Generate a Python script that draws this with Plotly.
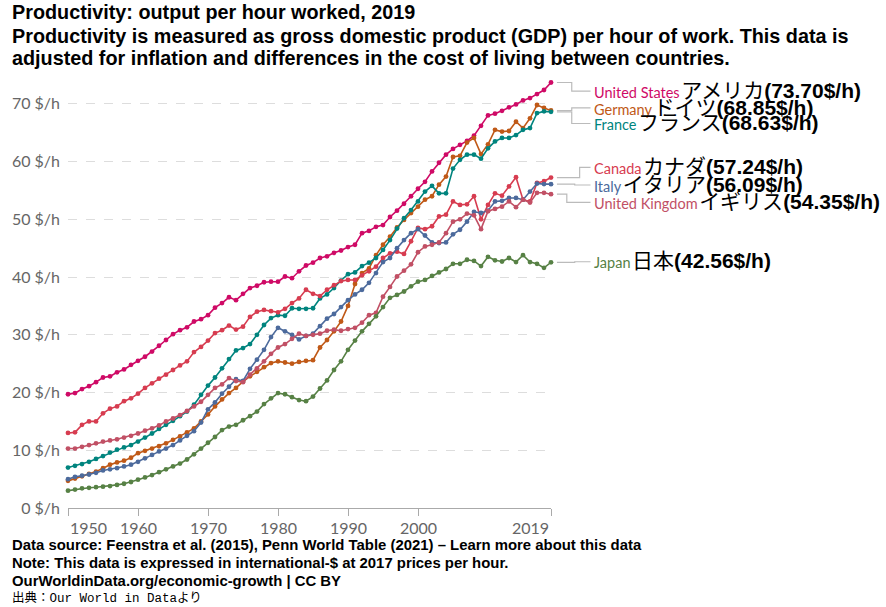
import plotly.graph_objects as go

years = list(range(1950, 2020))

countries = ["United States", "Germany", "France", "Canada", "Italy", "United Kingdom", "Japan"]
japanese = ["アメリカ", "ドイツ", "フランス", "カナダ", "イタリア", "イギリス", "日本"]

us = [19.7, 19.9, 20.6, 21.1, 21.8, 22.6, 22.8, 23.5, 24.0, 24.8,
      25.5, 26.2, 27.1, 28.1, 29.1, 30.1, 30.8, 31.3, 32.3, 32.7,
      33.4, 34.7, 35.5, 36.5, 36.0, 37.1, 38.1, 38.5, 39.1, 39.2,
      39.2, 40.1, 39.8, 41.0, 42.0, 42.5, 43.3, 43.6, 44.2, 44.6,
      45.2, 45.6, 47.6, 48.0, 48.7, 49.0, 50.4, 51.5, 52.7, 54.0,
      55.3, 56.5, 58.3, 59.8, 61.2, 62.2, 62.9, 63.6, 64.5, 66.2,
      68.0, 68.3, 68.8, 69.4, 69.9, 70.6, 71.0, 71.7, 72.4, 73.70]

germany = [4.7, 5.1, 5.5, 5.9, 6.3, 6.9, 7.5, 7.9, 8.2, 8.7,
           9.5, 9.9, 10.3, 10.7, 11.2, 11.8, 12.4, 13.1, 13.8, 15.0,
           16.2, 17.6, 18.8, 19.9, 20.8, 21.9, 22.8, 23.6, 24.4, 25.1,
           25.4, 25.2, 25.0, 25.3, 25.5, 25.6, 27.8, 29.1, 30.6, 32.3,
           35.0, 38.8, 40.7, 41.5, 43.8, 45.6, 47.0, 48.6, 49.9, 51.1,
           52.2, 53.4, 54.0, 56.0, 57.4, 60.8, 61.0, 63.3, 64.1, 61.3,
           63.0, 65.5, 65.2, 65.3, 66.9, 65.8, 67.5, 69.8, 69.3, 68.85]

france = [7.0, 7.3, 7.6, 8.0, 8.5, 9.0, 9.6, 10.1, 10.5, 10.9,
          11.5, 12.2, 12.9, 13.7, 14.4, 15.1, 15.9, 16.7, 17.9, 19.6,
          21.2, 22.6, 24.2, 25.8, 27.3, 27.7, 28.4, 30.0, 31.7, 32.9,
          33.4, 33.3, 34.6, 34.5, 34.5, 34.6, 36.3, 37.0, 38.1, 39.4,
          40.5, 40.8, 41.9, 42.5, 43.3, 44.7, 46.4, 48.4, 50.2, 51.6,
          53.1, 54.8, 55.8, 54.5, 54.5, 58.8, 60.3, 61.2, 61.2, 60.5,
          62.3, 63.5, 64.1, 64.1, 64.6, 65.5, 65.8, 68.4, 68.7, 68.63]

canada = [13.0, 13.1, 14.4, 15.0, 15.0, 16.4, 17.2, 17.6, 18.5, 19.0,
          19.8, 20.8, 21.6, 22.4, 23.1, 23.9, 24.7, 25.4, 27.0, 27.9,
          29.0, 30.3, 30.8, 31.6, 30.9, 31.4, 33.1, 34.0, 34.3, 34.1,
          33.9, 34.5, 35.5, 36.3, 37.8, 37.1, 36.7, 37.8, 38.6, 39.3,
          39.5, 39.5, 40.3, 41.0, 41.8, 43.3, 44.1, 44.4, 44.0, 46.2,
          48.5, 48.3, 48.8, 50.5, 50.8, 53.1, 52.5, 52.6, 54.0, 50.0,
          52.5, 54.5, 54.1, 55.7, 57.3, 53.4, 53.1, 56.3, 56.6, 57.24]

italy = [5.0, 5.4, 5.6, 5.8, 6.1, 6.5, 6.7, 6.9, 7.2, 7.5,
         8.0, 8.6, 9.2, 9.8, 10.3, 10.9, 11.7, 12.5, 13.3, 14.8,
         17.1, 18.3, 19.8, 21.0, 22.3, 22.0, 24.1, 25.7, 27.4, 29.6,
         31.2, 30.6, 30.0, 29.2, 29.8, 30.2, 31.5, 32.8, 33.6, 34.8,
         36.0, 37.0, 37.8, 39.0, 40.7, 42.6, 43.3, 45.0, 46.4, 47.6,
         48.3, 47.2, 46.0, 45.9, 46.0, 47.4, 48.2, 49.6, 51.3, 51.1,
         51.5, 53.1, 53.2, 53.7, 53.7, 53.4, 54.8, 56.2, 56.1, 56.09]

uk = [10.3, 10.3, 10.6, 10.9, 11.2, 11.5, 11.7, 11.9, 12.2, 12.5,
      12.9, 13.4, 13.8, 14.3, 15.0, 15.5, 16.1, 16.8, 17.6, 18.4,
      19.6, 20.8, 21.4, 22.5, 22.0, 21.8, 23.1, 24.2, 25.4, 26.7,
      27.8, 28.4, 29.3, 30.2, 29.8, 30.0, 30.2, 30.7, 30.9, 30.7,
      31.0, 31.2, 32.1, 33.4, 33.8, 36.6, 38.3, 40.1, 41.1, 42.2,
      44.3, 45.3, 45.6, 46.0, 47.6, 49.6, 50.0, 51.0, 50.7, 48.3,
      51.4, 51.8, 52.2, 53.1, 52.1, 53.4, 52.9, 54.6, 54.6, 54.35]

japan = [3.0, 3.2, 3.4, 3.5, 3.6, 3.7, 3.8, 4.0, 4.2, 4.5,
         4.9, 5.3, 5.7, 6.2, 6.7, 7.2, 7.7, 8.4, 9.3, 10.3,
         11.3, 12.3, 13.5, 14.1, 14.4, 15.2, 15.9, 16.7, 18.0, 19.0,
         19.9, 19.7, 19.2, 18.7, 18.5, 19.3, 20.7, 22.1, 23.9, 25.4,
         27.4, 29.0, 30.6, 31.9, 33.2, 34.8, 36.4, 36.9, 37.5, 38.4,
         39.2, 39.5, 40.2, 40.8, 41.4, 42.3, 42.3, 43.0, 42.8, 41.9,
         43.5, 42.9, 42.7, 43.3, 42.6, 43.8, 42.6, 42.3, 41.6, 42.56]

series = [us, germany, france, canada, italy, uk, japan]
colors = ["#CF0A66", "#C05917", "#00847E", "#D73C50", "#4C6A9C", "#C15065", "#578145"]

y_ticks = [0, 10, 20, 30, 40, 50, 60, 70]
y_ticktext = [f"{v} $/h" for v in y_ticks]
x_ticks = [1950, 1960, 1970, 1980, 1990, 2000, 2019]

# ---- layout geometry ----
W, H = 886, 607
ML, MR, MT, MB = 62, 335, 75, 99
PW = W - ML - MR
PH = H - MT - MB
YMAX = 75

def px_to_xpaper(px):
    return (px - ML) / PW

def px_to_ypaper(py):
    return (H - MB - py) / PH

fig = go.Figure()
for name, vals, col in zip(countries, series, colors):
    fig.add_trace(go.Scatter(
        x=years, y=vals, name=name, mode="lines+markers",
        line=dict(color=col, width=1.6),
        marker=dict(color=col, size=4.8),
        cliponaxis=False, showlegend=False,
    ))

annotations = []
shapes = []

# x tick labels (first left aligned, last right aligned, like OWID)
for i, yr in enumerate(x_ticks):
    anchor = "left" if i == 0 else ("right" if i == len(x_ticks) - 1 else "center")
    annotations.append(dict(
        x=yr, xref="x", y=0, yref="paper", yanchor="top", xanchor=anchor,
        yshift=-8, text=str(yr), showarrow=False,
        font=dict(family="Lato", size=16, color="#666666"),
    ))

# right-hand labels with connectors
label_y = {"United States": 72.6, "Germany": 69.7, "France": 67.0,
           "Canada": 59.4, "Italy": 56.35, "United Kingdom": 53.35, "Japan": 43.05}
elbow_px = {"United States": 572, "Germany": 572, "France": 572,
            "Canada": 580, "Italy": 575, "United Kingdom": 567, "Japan": 575}
for name, jp, vals, col in zip(countries, japanese, series, colors):
    end_v = vals[-1]
    ly = label_y[name]
    x0 = px_to_xpaper(557)
    xe = px_to_xpaper(elbow_px[name])
    x1 = px_to_xpaper(591)
    y0 = end_v / YMAX
    y1 = (ly - 0.4) / YMAX
    path = f"M {x0} {y0} L {xe} {y0} L {xe} {y1} L {x1} {y1}"
    shapes.append(dict(type="path", xref="paper", yref="paper", path=path,
                       line=dict(color="#bbbbbb", width=1.2)))
    txt = (f"<span style='font-family:Lato;font-size:14.5px;color:{col}'>{name}</span>"
           f"<span style='font-size:6px'> </span>"
           f"<span style='font-family:Noto Sans CJK JP;font-size:21px;color:#000'>{jp}</span>"
           f"<span style='font-family:Liberation Sans;font-size:21px;color:#000'><b>({end_v:.2f}$/h)</b></span>")
    annotations.append(dict(
        x=px_to_xpaper(593), xref="paper", y=ly / YMAX, yref="paper",
        xanchor="left", yanchor="middle", text=txt, showarrow=False,
    ))

# title & subtitle
title_lines = [
    ("Productivity: output per hour worked, 2019", 12),
    ("Productivity is measured as gross domestic product (GDP) per hour of work. This data is", 36),
    ("adjusted for inflation and differences in the cost of living between countries.", 58),
]
for t, py in title_lines:
    annotations.append(dict(
        x=px_to_xpaper(3), xref="paper", y=px_to_ypaper(py), yref="paper",
        xanchor="left", yanchor="middle", text=f"<b>{t}</b>", showarrow=False,
        font=dict(family="Liberation Sans, Arial", size=19.8, color="#000"),
    ))

# footer
footer_lines = [
    ("<b>Data source: Feenstra et al. (2015), Penn World Table (2021) – Learn more about this data</b>", 545, "Liberation Sans, Arial", 14.9),
    ("<b>Note: This data is expressed in international-$ at 2017 prices per hour.</b>", 563, "Liberation Sans, Arial", 14.9),
    ("<b>OurWorldinData.org/economic-growth | CC BY</b>", 581, "Liberation Sans, Arial", 14.9),
    ("出典：Our World in Dataより", 598, "Liberation Mono, Noto Sans CJK JP", 12.5),
]
for t, py, fam, sz in footer_lines:
    annotations.append(dict(
        x=px_to_xpaper(3), xref="paper", y=px_to_ypaper(py), yref="paper",
        xanchor="left", yanchor="middle", text=t, showarrow=False,
        font=dict(family=fam, size=sz, color="#000"),
    ))

fig.update_layout(
    width=W, height=H,
    margin=dict(l=ML, r=MR, t=MT, b=MB, pad=0),
    paper_bgcolor="white", plot_bgcolor="white",
    annotations=annotations, shapes=shapes,
    xaxis=dict(
        range=[1950, 2019], tickvals=x_ticks, showticklabels=False,
        showgrid=False, zeroline=False, showline=True, linecolor="#aaaaaa",
        linewidth=1, ticks="outside", ticklen=7, tickcolor="#aaaaaa",
    ),
    yaxis=dict(
        range=[0, YMAX], tickvals=y_ticks, ticktext=y_ticktext,
        showgrid=True, gridcolor="#dddddd", griddash="dash", gridwidth=1,
        zeroline=False, showline=False, ticks="", ticklabelstandoff=7,
        tickfont=dict(family="Lato", size=16, color="#666666"),
    ),
)

fig.write_html("out.html", config={"displayModeBar": False},
               post_script="document.body.style.margin='0px';document.body.style.overflow='hidden';")
